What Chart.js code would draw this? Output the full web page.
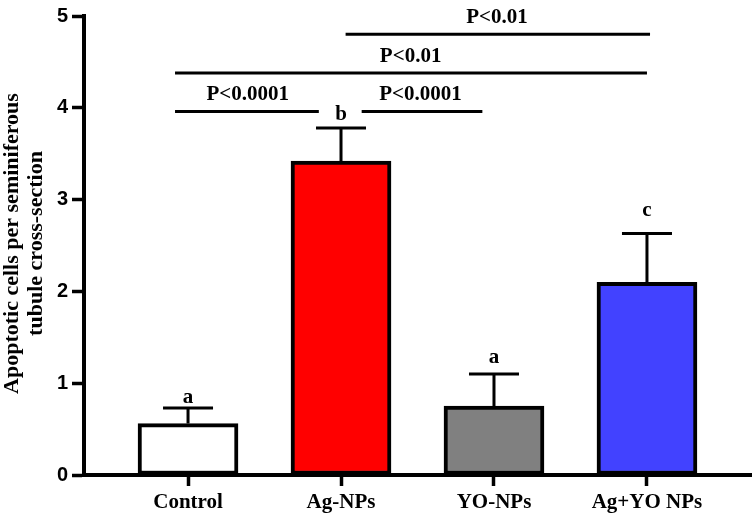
<!DOCTYPE html>
<html>
<head>
<meta charset="utf-8">
<script src="https://cdn.jsdelivr.net/npm/chart.js@4"></script>
<style>
  html, body { margin: 0; padding: 0; background: #fff; }
  #wrap { width: 755px; height: 518px; }
</style>
</head>
<body>
<div id="wrap"><canvas id="c" width="755" height="518"></canvas></div>
<script>
// ---- data ----
const categories = ['Control', 'Ag-NPs', 'YO-NPs', 'Ag+YO NPs'];
const means = [0.56, 3.42, 0.75, 2.10];
const sems = [0.17, 0.36, 0.35, 0.53];
const yTicks = [0, 1, 2, 3, 4, 5];
const letters = ['a', 'b', 'a', 'c'];
const letterY = [0.785, 3.87, 1.215, 2.82];
const bracketFrom = [1.03, -0.085, -0.085, 1.135];
const bracketTo = [3.02, 3.0, 0.855, 1.924];
const bracketY = [4.80, 4.38, 3.96, 3.96];
const bracketLabels = ['P<0.01', 'P<0.01', 'P<0.0001', 'P<0.0001'];
const bracketLabelX = [2.02, 1.455, 0.39, 1.52];
const bracketLabelY = [4.925, 4.495, 4.086, 4.086];
const yTitle = ['Apoptotic cells per seminiferous', 'tubule cross-section'];

// ---- styles ----
const barFill = ['#FFFFFF', '#FF0000', '#808080', '#4242FF'];
const serifBold = 'bold 21px "Liberation Serif", "Times New Roman", serif';
const titleFont = 'bold 22px "Liberation Serif", "Times New Roman", serif';

const annotPlugin = {
  id: 'annot',
  afterDatasetsDraw(chart) {
    const ctx = chart.ctx, xs = chart.scales.x, ys = chart.scales.y;
    ctx.save();
    ctx.strokeStyle = '#000';
    ctx.lineWidth = 3;
    means.forEach((m, i) => {
      const x = xs.getPixelForValue(i);
      const yb = ys.getPixelForValue(m);
      const yt = ys.getPixelForValue(m + sems[i]);
      ctx.beginPath();
      ctx.moveTo(x, yb);
      ctx.lineTo(x, yt);
      ctx.moveTo(x - 25, yt);
      ctx.lineTo(x + 25, yt);
      ctx.stroke();
    });
    ctx.restore();
  },
  afterDraw(chart) {
    const ctx = chart.ctx, xs = chart.scales.x, ys = chart.scales.y;
    ctx.save();
    ctx.fillStyle = '#000';
    ctx.strokeStyle = '#000';
    ctx.font = serifBold;
    ctx.textAlign = 'center';
    ctx.textBaseline = 'alphabetic';
    letters.forEach((l, i) => {
      ctx.fillText(l, xs.getPixelForValue(i), ys.getPixelForValue(letterY[i]));
    });
    ctx.lineWidth = 3;
    bracketFrom.forEach((f, i) => {
      const y = ys.getPixelForValue(bracketY[i]);
      ctx.beginPath();
      ctx.moveTo(xs.getPixelForValue(f), y);
      ctx.lineTo(xs.getPixelForValue(bracketTo[i]), y);
      ctx.stroke();
      ctx.fillText(bracketLabels[i], xs.getPixelForValue(bracketLabelX[i]), ys.getPixelForValue(bracketLabelY[i]));
    });
    const cy = (chart.chartArea.top + chart.chartArea.bottom) / 2 - 2;
    ctx.font = titleFont;
    const baseX = [18, 42];
    yTitle.forEach((t, i) => {
      ctx.save();
      ctx.translate(baseX[i], cy);
      ctx.rotate(-Math.PI / 2);
      ctx.fillText(t, 0, 0);
      ctx.restore();
    });
    ctx.restore();
  }
};

new Chart(document.getElementById('c'), {
  type: 'bar',
  data: {
    datasets: [{
      data: means.map((v, i) => ({ x: i, y: v })),
      backgroundColor: barFill,
      borderColor: '#000',
      borderWidth: 4,
      borderSkipped: false,
      barThickness: 100
    }]
  },
  options: {
    responsive: false,
    animation: false,
    events: [],
    layout: { padding: { top: 10, right: 4, left: 0, bottom: 0 } },
    plugins: { legend: { display: false }, tooltip: { enabled: false }, title: { display: false } },
    scales: {
      x: {
        type: 'linear',
        offset: false,
        min: -0.68,
        max: 3.68,
        afterBuildTicks: s => { s.ticks = categories.map((c, i) => ({ value: i })); },
        afterFit: s => { s.height = 43; },
        ticks: {
          autoSkip: false,
          maxRotation: 0,
          padding: 4,
          color: '#000',
          font: { family: '"Liberation Serif", "Times New Roman", serif', size: 21, weight: 'bold' },
          callback: v => categories[v]
        },
        grid: { display: true, offset: false, drawOnChartArea: false, drawTicks: true, tickLength: 11, tickWidth: 3.5, tickColor: '#000' },
        border: { display: true, width: 4, color: '#000' }
      },
      y: {
        min: 0,
        max: 5,
        afterBuildTicks: s => { s.ticks = yTicks.map(v => ({ value: v })); },
        afterFit: s => { s.width = 84; },
        ticks: {
          padding: 4,
          color: '#000',
          font: { family: '"Liberation Sans", Arial, sans-serif', size: 20, weight: 'bold' }
        },
        grid: { display: true, drawOnChartArea: false, drawTicks: true, tickLength: 12, tickWidth: 3.5, tickColor: '#000' },
        border: { display: true, width: 4, color: '#000' }
      }
    }
  },
  plugins: [annotPlugin]
});
</script>
</body>
</html>
